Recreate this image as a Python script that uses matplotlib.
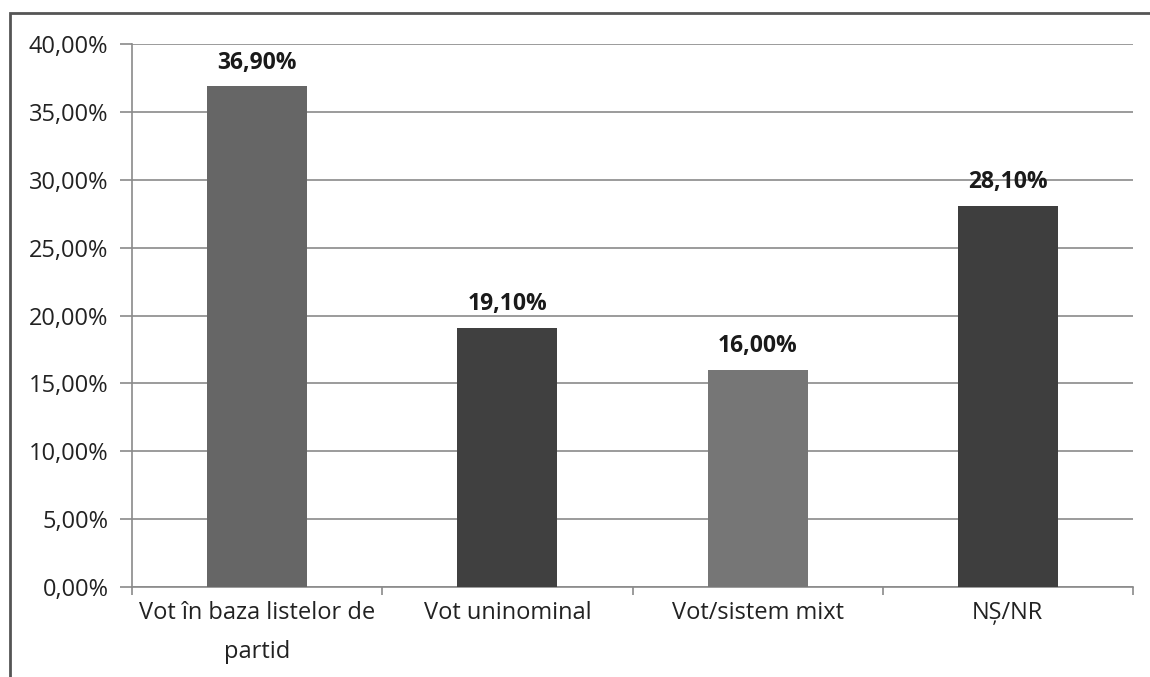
import matplotlib.pyplot as plt
from matplotlib.patches import Rectangle
from matplotlib.ticker import FuncFormatter, FixedLocator

categories = ["Vot în baza listelor de\npartid", "Vot uninominal", "Vot/sistem mixt", "NȘ/NR"]
values = [36.9, 19.1, 16.0, 28.1]
colors = ["#666666", "#404040", "#767676", "#3e3e3e"]

plt.rcParams['font.family'] = ['Open Sans', 'DejaVu Sans']

fig = plt.figure(figsize=(11.5, 6.77), dpi=100)
ax = fig.add_axes([132 / 1150, 1 - 587 / 677, (1133 - 132) / 1150, (587 - 44) / 677])

x = range(len(values))
ax.bar(x, values, width=0.4, color=colors, zorder=3)
for xi, v in zip(x, values):
    ax.text(xi, v + 0.85, f"{v:.2f}%".replace(".", ","), ha="center", va="bottom",
            fontsize=16.5, fontweight="bold", color="#1a1a1a")

ax.set_xlim(-0.5, len(values) - 0.5)
ax.set_ylim(0, 40)
ax.set_yticks(range(0, 41, 5))
ax.yaxis.set_major_formatter(FuncFormatter(lambda v, p: f"{v:.2f}%".replace(".", ",")))
ax.grid(axis="y", color="#8a8a8a", linewidth=1.2, zorder=0)

ax.set_xticks(list(x))
ax.set_xticklabels(categories, fontsize=17, color="#222222", linespacing=1.85)
ax.xaxis.set_minor_locator(FixedLocator([i - 0.5 for i in range(len(values) + 1)]))
ax.tick_params(axis="x", which="major", length=0, pad=10)
ax.tick_params(axis="x", which="minor", length=6, color="#8a8a8a", width=1.2)
ax.tick_params(axis="y", length=9, color="#8a8a8a", width=1.2, labelsize=17,
               labelcolor="#222222", pad=8)

for s in ["top", "right"]:
    ax.spines[s].set_visible(False)
for s in ["left", "bottom"]:
    ax.spines[s].set_color("#8a8a8a")
    ax.spines[s].set_linewidth(1.2)

# outer frame of the chart area (cropped at right and bottom)
frame = Rectangle((10 / 1150, -0.1), 1.2, 1 - 13 / 677 + 0.1, transform=fig.transFigure,
                  fill=False, edgecolor="#555555", linewidth=2, clip_on=False)
fig.patches.append(frame)

fig.savefig("out.png", dpi=100)
